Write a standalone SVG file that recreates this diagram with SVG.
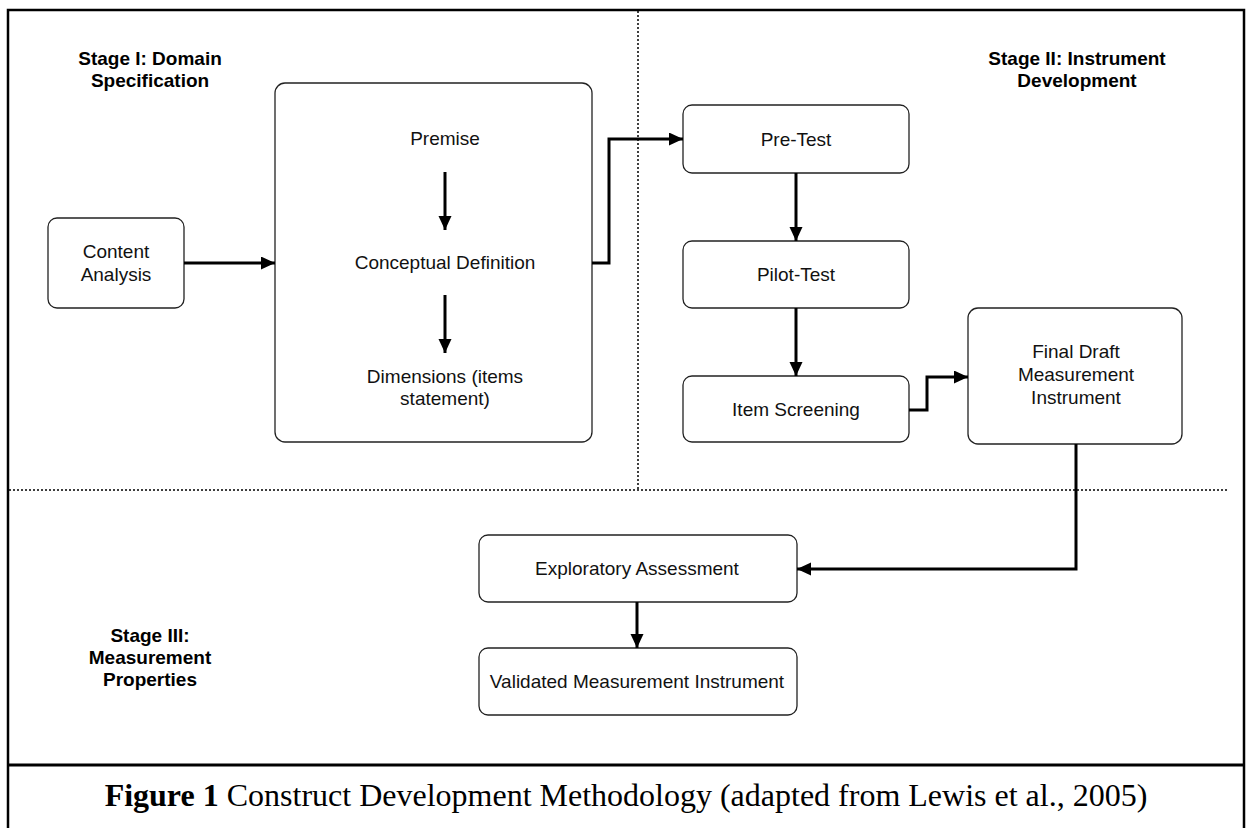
<svg xmlns="http://www.w3.org/2000/svg" width="1246" height="828" viewBox="0 0 1246 828">
<style>
.box{fill:#fff;stroke:#222;stroke-width:1.3}
.t{font-family:"Liberation Sans",Arial,sans-serif;font-size:19px;fill:#111;text-anchor:middle}
.st{font-family:"Liberation Sans",Arial,sans-serif;font-size:19px;font-weight:bold;fill:#000;text-anchor:middle}
.c{fill:none;stroke:#000;stroke-width:3}
.dot{fill:none;stroke:#000;stroke-width:1.5;stroke-dasharray:2 2}
.cap{font-family:"Liberation Serif","Times New Roman",serif;font-size:32px;fill:#000;text-anchor:middle}
</style>
<defs>
<marker id="ah" markerUnits="userSpaceOnUse" markerWidth="15" markerHeight="14" refX="14" refY="6.5" orient="auto">
<path d="M0,0 L14,6.5 L0,13 z" fill="#000"/>
</marker>
</defs>
<rect x="0" y="0" width="1246" height="828" fill="#fff"/>
<rect x="8" y="10" width="1236" height="840" fill="none" stroke="#000" stroke-width="2.5"/>
<line x1="8" y1="765" x2="1244" y2="765" stroke="#000" stroke-width="3"/>
<g id="dividers">
<line class="dot" x1="638" y1="11" x2="638" y2="490"/>
<line class="dot" x1="9" y1="490" x2="1228" y2="490"/>
</g>
<g id="stage1"><text class="st" x="150" y="65">Stage I: Domain</text><text class="st" x="150" y="87">Specification</text></g>
<g id="stage2"><text class="st" x="1077" y="65">Stage II: Instrument</text><text class="st" x="1077" y="87">Development</text></g>
<g id="stage3"><text class="st" x="150" y="642">Stage III:</text><text class="st" x="150" y="664">Measurement</text><text class="st" x="150" y="686">Properties</text></g>
<g id="content-analysis"><rect class="box" x="48" y="218" width="136" height="90" rx="9"/><text class="t" x="116" y="258">Content</text><text class="t" x="116" y="281">Analysis</text></g>
<g id="domain-box"><rect class="box" x="275" y="83" width="317" height="359" rx="10"/>
<text class="t" x="445" y="145">Premise</text>
<text class="t" x="445" y="269">Conceptual Definition</text>
<text class="t" x="445" y="383">Dimensions (items</text>
<text class="t" x="445" y="405">statement)</text></g>
<g id="pre-test"><rect class="box" x="683" y="105" width="226" height="68" rx="9"/><text class="t" x="796" y="146">Pre-Test</text></g>
<g id="pilot-test"><rect class="box" x="683" y="241" width="226" height="67" rx="9"/><text class="t" x="796" y="281">Pilot-Test</text></g>
<g id="item-screening"><rect class="box" x="683" y="376" width="226" height="66" rx="9"/><text class="t" x="796" y="416">Item Screening</text></g>
<g id="final-draft"><rect class="box" x="968" y="308" width="214" height="136" rx="10"/><text class="t" x="1076" y="358">Final Draft</text><text class="t" x="1076" y="381">Measurement</text><text class="t" x="1076" y="404">Instrument</text></g>
<g id="exploratory"><rect class="box" x="479" y="535" width="318" height="67" rx="9"/><text class="t" x="637" y="575">Exploratory Assessment</text></g>
<g id="validated"><rect class="box" x="479" y="648" width="318" height="67" rx="9"/><text class="t" x="637" y="688">Validated Measurement Instrument</text></g>
<g id="connectors">
<path class="c" d="M184,263 H275" marker-end="url(#ah)"/>
<path class="c" d="M445,172 V230" marker-end="url(#ah)"/>
<path class="c" d="M445,295 V353" marker-end="url(#ah)"/>
<path class="c" d="M592,263 H609 V139 H683" marker-end="url(#ah)"/>
<path class="c" d="M796,173 V241" marker-end="url(#ah)"/>
<path class="c" d="M796,308 V376" marker-end="url(#ah)"/>
<path class="c" d="M909,410 H927 V377 H968" marker-end="url(#ah)"/>
<path class="c" d="M1076,444 V569 H797" marker-end="url(#ah)"/>
<path class="c" d="M637,602 V648" marker-end="url(#ah)"/>
</g>
<g id="caption"><text class="cap" x="626" y="806"><tspan font-weight="bold">Figure 1</tspan> Construct Development Methodology (adapted from Lewis et al., 2005)</text></g>
</svg>
